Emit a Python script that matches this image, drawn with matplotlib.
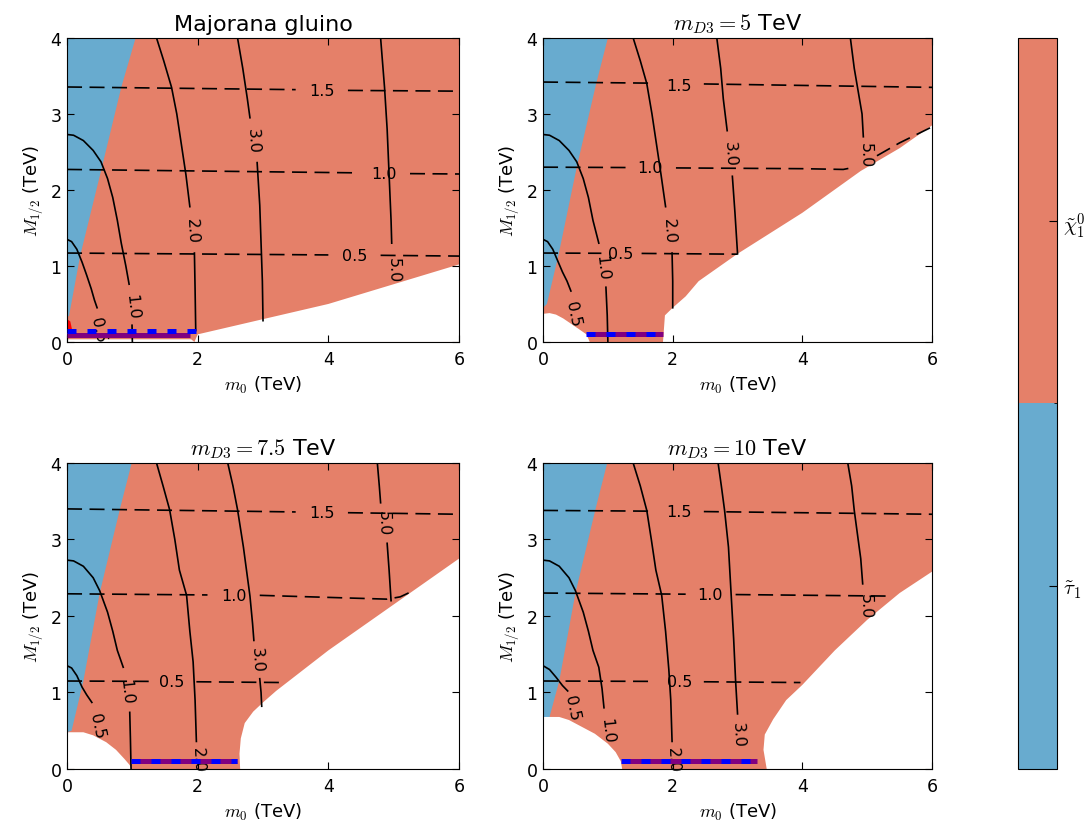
import matplotlib as mpl
import matplotlib.pyplot as plt
from matplotlib.colors import ListedColormap, BoundaryNorm

ORANGE = '#E58069'
BLUE = '#68ABCF'
GAP = float('nan')   # break in a contour line where its label sits

titles = ['Majorana gluino', r'$m_{D3}=5$ TeV', r'$m_{D3}=7.5$ TeV', r'$m_{D3}=10$ TeV']
lsp_labels = [r'$\tilde{\tau}_1$', r'$\tilde{\chi}_1^0$']

# stau LSP region (left edge of neutralino region), per panel
stau_m0 = [[0.0, 0.03, 0.2, 0.52, 0.83, 1.05],
           [0.0, 0.06, 0.24, 0.52, 0.82, 1.0],
           [0.0, 0.07, 0.25, 0.5, 0.81, 0.99],
           [0.0, 0.1, 0.25, 0.5, 0.81, 0.99]]
stau_M12 = [[0.34, 0.34, 1.13, 2.25, 3.35, 4.0],
            [0.45, 0.5, 1.15, 2.3, 3.4, 4.0],
            [0.48, 0.5, 1.15, 2.3, 3.4, 4.0],
            [0.66, 0.68, 1.15, 2.3, 3.4, 4.0]]

# excluded (white) region, lower right
wr_m0 = [[1.95, 2.0, 2.5, 3.0, 4.0, 5.0, 6.0],
         [1.85, 1.88, 2.0, 2.2, 2.4, 3.0, 4.0, 4.9, 5.5, 6.0],
         [2.65, 2.64, 2.66, 2.72, 2.85, 3.0, 3.2, 4.0, 4.5, 5.0, 5.5, 6.0],
         [3.45, 3.4, 3.42, 3.55, 3.75, 4.0, 4.5, 5.0, 5.5, 6.0]]
wr_M12 = [[0.0, 0.1, 0.2, 0.3, 0.5, 0.76, 1.02],
          [0.0, 0.35, 0.45, 0.6, 0.8, 1.16, 1.7, 2.25, 2.55, 2.85],
          [0.0, 0.2, 0.4, 0.6, 0.75, 0.87, 1.02, 1.55, 1.85, 2.15, 2.45, 2.75],
          [0.0, 0.25, 0.45, 0.65, 0.9, 1.1, 1.55, 1.95, 2.3, 2.58]]

# excluded (white) region, lower left
wl_m0 = [[0.0, 1.9, 1.95],
         [0.0, 0.1, 0.2, 0.31, 0.5, 0.67, 0.72],
         [0.0, 0.25, 0.4, 0.6, 0.75, 0.88, 0.96, 0.98],
         [0.0, 0.25, 0.4, 0.6, 0.8, 1.0, 1.12, 1.2, 1.22]]
wl_M12 = [[0.035, 0.035, 0.0],
          [0.37, 0.38, 0.36, 0.31, 0.2, 0.1, 0.0],
          [0.48, 0.48, 0.44, 0.35, 0.25, 0.13, 0.05, 0.0],
          [0.68, 0.68, 0.64, 0.55, 0.46, 0.33, 0.22, 0.1, 0.0]]

# small red patch (first panel only)
red_m0 = [0.0, 0.06, 0.08, 0.05, 0.0]
red_M12 = [0.08, 0.08, 0.15, 0.27, 0.3]

# solid contours (gluino mass, TeV)
solid_labels = ['0.5', '1.0', '2.0', '3.0', '5.0']
solid_m0 = [
    [[0.0, 0.07, 0.15, 0.23, 0.3, 0.37, 0.42, 0.46],
     [0.0, 0.1, 0.25, 0.4, 0.52, 0.62, 0.7, 0.77, 0.83, 0.9, 0.95, GAP, 0.995, 1.0],
     [1.37, 1.48, 1.6, 1.68, 1.75, 1.82, 1.88, GAP, 1.95, 1.96, 1.97],
     [2.61, 2.69, 2.76, 2.8, GAP, 2.91, 2.95, 2.97, 2.99, 3.0],
     [4.8, 4.86, 4.9, 4.93, 4.96, 4.97]],
    [[0.0, 0.07, 0.15, 0.23, 0.3, 0.37, 0.43],
     [0.0, 0.1, 0.25, 0.4, 0.52, 0.62, 0.7, 0.77, 0.83, 0.86, GAP, 0.97, 0.99, 1.0],
     [1.39, 1.5, 1.6, 1.68, 1.75, 1.82, 1.89, GAP, 1.99, 2.0, 2.0],
     [2.68, 2.74, 2.78, 2.84, GAP, 2.92, 2.96, 3.0],
     [4.74, 4.8, 4.86, 4.92, 4.94]],
    [[0.0, 0.07, 0.15, 0.23, 0.3, 0.38],
     [0.0, 0.1, 0.25, 0.4, 0.5, 0.62, 0.7, 0.77, 0.86, GAP, 0.96, 0.97, 0.98],
     [1.37, 1.47, 1.57, 1.65, 1.72, 1.83, 1.88, 1.93, 1.96, 1.98],
     [2.46, 2.54, 2.61, 2.7, 2.8, 2.84, 2.86, GAP, 2.95, 2.97, 2.98],
     [4.75, 4.78, 4.8, GAP, 4.9, 4.93, 4.96]],
    [[0.0, 0.1, 0.2, 0.3, 0.38],
     [0.0, 0.1, 0.25, 0.4, 0.5, 0.62, 0.7, 0.77, 0.86, 0.91, 0.94],
     [1.39, 1.5, 1.6, 1.67, 1.74, 1.83, 1.89, 1.94, 1.97, 1.99],
     [2.7, 2.75, 2.8, 2.86, 2.9, 2.94, 2.97, 3.0],
     [4.7, 4.76, 4.8, 4.86, 4.9, 4.93]],
]
solid_M12 = [
    [[1.35, 1.32, 1.22, 1.05, 0.88, 0.7, 0.55, 0.45],
     [2.73, 2.72, 2.65, 2.52, 2.37, 2.15, 1.9, 1.6, 1.3, 1.0, 0.76, GAP, 0.22, 0.0],
     [4.0, 3.7, 3.35, 3.0, 2.6, 2.2, 1.78, GAP, 1.17, 0.7, 0.15],
     [4.0, 3.6, 3.2, 2.95, GAP, 2.36, 1.8, 1.3, 0.8, 0.28],
     [4.0, 3.35, 2.8, 2.2, 1.6, 1.3]],
    [[1.35, 1.32, 1.22, 1.06, 0.92, 0.8, 0.67],
     [2.73, 2.72, 2.65, 2.52, 2.37, 2.15, 1.9, 1.6, 1.4, 1.3, GAP, 0.72, 0.35, 0.0],
     [4.0, 3.7, 3.4, 3.0, 2.6, 2.2, 1.78, GAP, 1.17, 0.8, 0.45],
     [4.0, 3.6, 3.2, 2.78, GAP, 2.18, 1.7, 1.16],
     [4.0, 3.6, 3.3, 3.0, 2.7]],
    [[1.35, 1.32, 1.22, 1.07, 0.97, 0.87],
     [2.73, 2.72, 2.65, 2.5, 2.33, 2.05, 1.8, 1.55, 1.33, GAP, 0.74, 0.4, 0.0],
     [4.0, 3.7, 3.39, 3.0, 2.6, 2.27, 1.8, 1.4, 0.9, 0.36],
     [4.0, 3.7, 3.39, 2.9, 2.26, 1.9, 1.68, GAP, 1.18, 1.0, 0.82],
     [4.0, 3.7, 3.48, GAP, 2.95, 2.6, 2.2]],
    [[1.35, 1.3, 1.2, 1.09, 1.02],
     [2.73, 2.72, 2.65, 2.5, 2.33, 2.05, 1.8, 1.55, 1.33, 1.05, 0.8],
     [4.0, 3.7, 3.38, 3.0, 2.6, 2.27, 1.8, 1.3, 0.9, 0.36],
     [4.0, 3.7, 3.38, 2.9, 2.3, 1.7, 1.15, 0.72],
     [4.0, 3.7, 3.38, 3.0, 2.75, 2.42]],
]
solid_lab_m0 = [[0.48, 0.99, 1.92, 2.84, 5.0],
                [0.47, 0.91, 1.94, 2.89, 4.97],
                [0.46, 0.91, 2.0, 2.9, 4.85],
                [0.45, 0.98, 2.0, 3.01, 4.98]]
solid_lab_M12 = [[0.17, 0.47, 1.47, 2.65, 0.95],
                 [0.37, 0.98, 1.47, 2.48, 2.46],
                 [0.57, 1.02, 0.13, 1.43, 3.22],
                 [0.8, 0.51, 0.13, 0.45, 2.13]]
solid_lab_rot = [-78, -84, -87, -87, -89]

# dashed contours
dash_labels = ['1.5', '1.0', '0.5']
dash_m0 = [
    [[0.0, 3.5, GAP, 4.3, 6.0],
     [0.0, 4.45, GAP, 5.25, 6.0],
     [0.0, 4.0, GAP, 4.8, 6.0]],
    [[0.0, 1.72, GAP, 2.48, 6.0],
     [0.0, 1.3, GAP, 2.05, 4.0, 4.63, 4.75, GAP, 5.15, 5.5, 6.0],
     [0.0, 0.9, GAP, 1.52, 3.0]],
    [[0.0, 3.5, GAP, 4.3, 6.0],
     [0.0, 2.15, GAP, 2.95, 4.9, 5.1, 5.3],
     [0.0, 1.25, GAP, 1.98, 3.3]],
    [[0.0, 1.72, GAP, 2.48, 6.0],
     [0.0, 2.2, GAP, 2.97, 5.35],
     [0.0, 1.72, GAP, 2.48, 3.97]],
]
dash_M12 = [
    [[3.355, 3.32, GAP, 3.31, 3.3],
     [2.27, 2.225, GAP, 2.215, 2.21],
     [1.17, 1.145, GAP, 1.14, 1.13]],
    [[3.42, 3.405, GAP, 3.395, 3.35],
     [2.3, 2.295, GAP, 2.29, 2.28, 2.27, 2.29, GAP, 2.45, 2.62, 2.83],
     [1.17, 1.167, GAP, 1.165, 1.155]],
    [[3.4, 3.36, GAP, 3.35, 3.33],
     [2.29, 2.275, GAP, 2.27, 2.22, 2.25, 2.33],
     [1.15, 1.145, GAP, 1.14, 1.13]],
    [[3.38, 3.37, GAP, 3.365, 3.33],
     [2.3, 2.285, GAP, 2.28, 2.26],
     [1.15, 1.145, GAP, 1.14, 1.13]],
]
dash_lab_m0 = [[3.9, 4.85, 4.4], [2.1, 1.65, 1.2], [3.9, 2.55, 1.6], [2.1, 2.58, 2.1]]
dash_lab_M12 = [[3.31, 2.22, 1.14], [3.38, 2.29, 1.17], [3.35, 2.27, 1.14], [3.36, 2.28, 1.14]]

# purple band with blue dashes along the bottom
band_lo = [0.0, 0.7, 1.0, 1.22]
band_hi = [1.88, 1.85, 2.6, 3.3]
band_M12 = [0.09, 0.1, 0.1, 0.11]
bdash_lo = [0.0, 0.66, 0.98, 1.21]
bdash_hi = [2.05, 1.85, 2.6, 3.32]
bdash_M12 = [0.14, 0.1, 0.1, 0.11]

plt.rcParams['font.size'] = 12.5
plt.rcParams['mathtext.fontset'] = 'cm'
plt.rcParams['xtick.direction'] = 'in'
plt.rcParams['ytick.direction'] = 'in'
plt.rcParams['xtick.top'] = True
plt.rcParams['ytick.right'] = True
plt.rcParams['xtick.major.size'] = 5
plt.rcParams['ytick.major.size'] = 5
plt.rcParams['xtick.major.pad'] = 6
plt.rcParams['ytick.major.pad'] = 4

fig = plt.figure(figsize=(10.9, 8.29), dpi=100)
positions = [[0.0615, 0.5863, 0.3596, 0.3667],
             [0.4982, 0.5863, 0.3569, 0.3667],
             [0.0615, 0.0712, 0.3596, 0.3691],
             [0.4982, 0.0712, 0.3569, 0.3691]]

for i in range(4):
    ax = fig.add_axes(positions[i])
    ax.set_facecolor(ORANGE)
    ax.fill(stau_m0[i] + [0.0], stau_M12[i] + [4.0], color=BLUE, lw=0, zorder=1)
    ax.fill(wr_m0[i] + [6.0], wr_M12[i] + [0.0], color='white', lw=0, zorder=1)
    ax.fill(wl_m0[i] + [0.0], wl_M12[i] + [0.0], color='white', lw=0, zorder=1)
    if i == 0:
        ax.fill(red_m0, red_M12, color='red', lw=0, zorder=1)

    for k in range(len(solid_labels)):
        ax.plot(solid_m0[i][k], solid_M12[i][k], 'k-', lw=1.2, zorder=2)
        ax.text(solid_lab_m0[i][k], solid_lab_M12[i][k], solid_labels[k],
                rotation=solid_lab_rot[k], ha='center', va='center', fontsize=11.5,
                rotation_mode='anchor', zorder=3)
    for k in range(len(dash_labels)):
        ax.plot(dash_m0[i][k], dash_M12[i][k], color='k', lw=1.2,
                linestyle=(0, (9, 4.5)), zorder=2)
        ax.text(dash_lab_m0[i][k], dash_lab_M12[i][k], dash_labels[k],
                ha='center', va='center', fontsize=11.5, zorder=3)

    ax.plot([band_lo[i], band_hi[i]], [band_M12[i], band_M12[i]], color='purple',
            lw=3.6, solid_capstyle='butt', zorder=4)
    ax.plot([bdash_lo[i], bdash_hi[i]], [bdash_M12[i], bdash_M12[i]], color='blue',
            lw=3.6, linestyle=(0, (1.8, 2.2)), dash_capstyle='butt', zorder=5)

    ax.set_xlim(0, 6)
    ax.set_ylim(0, 4)
    ax.set_xticks([0, 2, 4, 6])
    ax.set_yticks([0, 1, 2, 3, 4])
    ax.set_xlabel(r'$m_0$ (TeV)', fontsize=13)
    ax.set_ylabel(r'$M_{1/2}$ (TeV)', fontsize=13)
    ax.set_title(titles[i], fontsize=16)

cax = fig.add_axes([0.934, 0.0712, 0.0358, 0.8818])
cmap = ListedColormap([BLUE, ORANGE])
norm = BoundaryNorm([0, 1, 2], cmap.N)
cb = mpl.colorbar.ColorbarBase(cax, cmap=cmap, norm=norm, ticks=[0.5, 1.5])
cb.set_ticklabels(lsp_labels)
cax.tick_params(direction='in', length=6, labelsize=15, right=True)

fig.savefig('out.png', dpi=100)
